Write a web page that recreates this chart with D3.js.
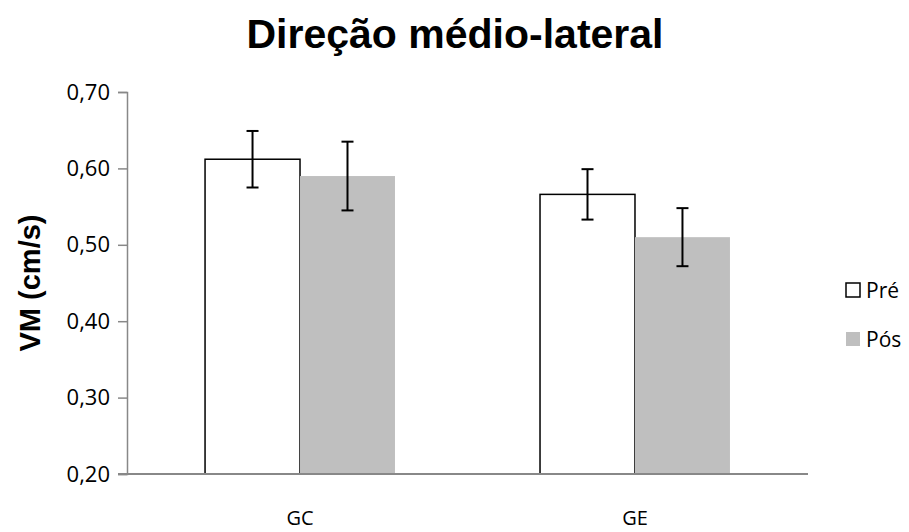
<!DOCTYPE html>
<html>
<head>
<meta charset="utf-8">
<script src="https://cdn.jsdelivr.net/npm/d3@7"></script>
<style>
  body { margin: 0; background: #fff; }
  svg { display: block; }
</style>
</head>
<body>
<svg id="chart" width="909" height="532"></svg>
<script>
var groups = ['GC', 'GE']
  , series = ['Pré', 'Pós']
  , preValues = [0.612, 0.566]
  , preErrors = [0.037, 0.033]
  , posValues = [0.590, 0.510]
  , posErrors = [0.045, 0.038]
  , yTicks = [0.20, 0.30, 0.40, 0.50, 0.60, 0.70]

var svg = d3.select('svg#chart')
  , plotL = 127, plotR = 808, plotT = 92, plotB = 474

var rows = []
groups.forEach(function(g, i) {
  rows.push({ group: g, series: 'Pré', value: preValues[i], err: preErrors[i] })
  rows.push({ group: g, series: 'Pós', value: posValues[i], err: posErrors[i] })
})

var x = d3.scaleBand().domain(groups).range([plotL, plotR])
  .paddingInner(0.433).paddingOuter(0.233)
var xs = d3.scaleBand().domain(series).range([0, x.bandwidth()])
var y = d3.scaleLinear().domain([0.2, 0.7]).range([plotB, plotT])

var fill = { 'Pré': '#ffffff', 'Pós': '#bfbfbf' }
  , stroke = { 'Pré': '#000', 'Pós': 'none' }

// title
svg.append('text')
  .attr('x', 455).attr('y', 48)
  .attr('text-anchor', 'middle')
  .style('font', 'bold 41px "Liberation Sans", Arial, sans-serif')
  .text('Direção médio-lateral')

// y axis
var yAxis = svg.append('g').attr('transform', 'translate(' + plotL + ',0)')
  .call(d3.axisLeft(y).tickValues(yTicks).tickSize(9).tickPadding(8)
    .tickFormat(function(d) { return d3.format('.2f')(d).replace('.', ',') }))
yAxis.select('.domain').attr('stroke', '#888').attr('stroke-width', 1.5)
yAxis.selectAll('.tick line').attr('stroke', '#888').attr('stroke-width', 1.5)
yAxis.selectAll('.tick text').attr('fill', '#000')
  .style('font', '22px "Open Sans", "Noto Sans", sans-serif')

svg.append('text')
  .attr('transform', 'translate(40,283) rotate(-90)')
  .attr('text-anchor', 'middle')
  .style('font', 'bold 29px "Liberation Sans", Arial, sans-serif')
  .text('VM (cm/s)')

// bars
var bars = svg.append('g')
bars.selectAll('rect').data(rows).enter().append('rect')
  .attr('x', function(d) { return x(d.group) + xs(d.series) })
  .attr('y', function(d) { return y(d.value) })
  .attr('width', xs.bandwidth())
  .attr('height', function(d) { return y(0.2) - y(d.value) })
  .attr('fill', function(d) { return fill[d.series] })
  .attr('stroke', function(d) { return stroke[d.series] })
  .attr('stroke-width', 1.5)

// x axis
var xAxis = svg.append('g').attr('transform', 'translate(0,' + plotB + ')')
  .call(d3.axisBottom(x).tickSize(0).tickPadding(37))
xAxis.select('.domain').attr('stroke', '#888').attr('stroke-width', 2)
  .attr('d', 'M' + (plotL - 9) + ',0H' + plotR)
xAxis.selectAll('.tick text').attr('fill', '#000')
  .style('font', '20px "Open Sans", "Noto Sans", sans-serif')

// error bars
var eb = svg.append('g').selectAll('g').data(rows).enter().append('g')
  .attr('stroke', '#000').attr('stroke-width', 2)
eb.append('line')
  .attr('x1', function(d) { return x(d.group) + xs(d.series) + xs.bandwidth() / 2 })
  .attr('x2', function(d) { return x(d.group) + xs(d.series) + xs.bandwidth() / 2 })
  .attr('y1', function(d) { return y(d.value + d.err) })
  .attr('y2', function(d) { return y(d.value - d.err) })
;[1, -1].forEach(function(s) {
  eb.append('line')
    .attr('x1', function(d) { return x(d.group) + xs(d.series) + xs.bandwidth() / 2 - 6 })
    .attr('x2', function(d) { return x(d.group) + xs(d.series) + xs.bandwidth() / 2 + 6 })
    .attr('y1', function(d) { return y(d.value + s * d.err) })
    .attr('y2', function(d) { return y(d.value + s * d.err) })
})

// legend
var legend = svg.append('g').selectAll('g').data(series).enter().append('g')
  .attr('transform', function(d, i) { return 'translate(846,' + (283 + i * 49) + ')' })
legend.append('rect')
  .attr('width', 14).attr('height', 14)
  .attr('fill', function(d) { return fill[d] })
  .attr('stroke', function(d) { return stroke[d] })
  .attr('stroke-width', 1.5)
legend.append('text')
  .attr('x', 20).attr('y', 15)
  .style('font', '21px "Open Sans", "Noto Sans", sans-serif')
  .text(function(d) { return d })
</script>
</body>
</html>
